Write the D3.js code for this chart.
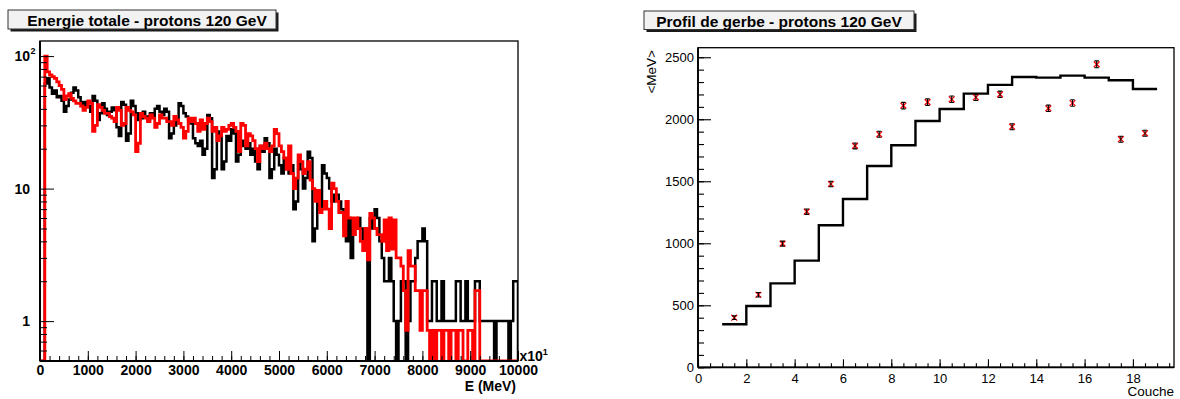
<!DOCTYPE html>
<html><head><meta charset="utf-8">
<script src="https://cdn.jsdelivr.net/npm/d3@7"></script>
<style>
html,body{margin:0;padding:0;background:#fff;}
svg{display:block;}
</style></head><body>
<svg id="c" width="1180" height="399"></svg>
<script>
// ---------------- DATA ----------------
// Left: total energy histogram, 200 bins from 0 to 10000 (x10^1 MeV)
const energyMin = 0;
const energyMax = 10000;
const energyBinWidth = 50;
const energyTicks = [0,1000,2000,3000,4000,5000,6000,7000,8000,9000,10000];
const countTicks = [1,10,100];
// black histogram (counts per bin)
const blackCounts = [
  0,0, 62,68, 58,52, 55,49, 50,46, 38,42, 47,53, 58,55, 49,45, 41,45,
  42,38, 50,46, 33,37, 44,40, 36,38, 41,39, 29,25, 45,43, 23,26, 46,42,
  37,33, 34,38, 35,33, 37,35, 40,42, 38,36, 40,38, 24,26, 30,32, 44,42,
  37,35, 33,31, 24,22, 21,23, 18,20, 36,34, 12,14, 27,25, 14,16, 25,23,
  28,26, 16,18, 23,21, 20,22, 18,20, 16,14, 21,19, 24,22, 12,14, 20,18,
  15,13, 17,15, 13,15, 7,8, 16,14, 10,12, 19,17, 4,5, 9,7, 15,13,
  12,10, 8,9, 9,8, 7,5, 4,6, 3,5, 5,6, 5,4, 5,0, 6,5,
  7,6, 4,3, 2,2, 3,2, 1,0, 1,2, 2,0, 1,2, 2,3, 4,4,
  5,4, 1,1, 2,2, 1,1, 2,1, 1,1, 1,1, 2,2, 1,1, 2,1,
  1,1, 2,2, 1,1, 1,1, 1,1, 0,1, 1,1, 1,1, 0,1, 2,2
];
// red histogram (normalised counts per bin)
const redCounts = [
  0,0, 100,76, 72,70, 68,64, 60,56, 47,50, 52,48, 46,44, 44,42, 39,41,
  46,44, 27,30, 43,41, 39,37, 37,35, 34,32, 41,39, 30,31, 41,39, 38,36,
  19,22, 37,35, 34,32, 36,34, 29,31, 36,34, 34,32, 32,30, 35,33, 31,29,
  24,27, 34,32, 34,31, 27,33, 28,31, 34,32, 27,29, 23,25, 29,27, 28,30,
  31,29, 27,19, 31,30, 21,26, 25,23, 20,16, 21,20, 22,20, 19,21, 28,26,
  21,19, 17,14, 21,13, 10,12, 18,16, 13,14, 16,11.6, 10,8, 9.7,6.6, 7,8,
  7,5, 11,10, 8,6.6, 6.6,4.4, 8,6, 6,4.5, 6,5, 4,3.4, 5,2.9, 6.5,6,
  5,4.5, 4.5,4, 5.8,3.4, 6,3.5, 5.8,3, 3,2.6, 1.7,0.85, 3.4,2.6, 2.6,1.7, 1.7,0.85,
  1.7,1.7, 0.85,0, 0.85,0, 0.85,0.85, 0,0.85, 0.85,0, 0.85,0.85, 0,0.85, 0.85,0, 0,0.85,
  0.85,0, 1.7,1.7, 0,0, 0,0, 0,0, 0,0, 0,0, 0,0, 0,0, 0,0
];

// Right: shower profile
const layerTicks = [0,2,4,6,8,10,12,14,16,18];
const mevTicks = [0,500,1000,1500,2000,2500];
const stepLayerEdges = [1,2,3,4,5,6,7,8,9,10,11,12,13,14,15,16,17,18,19];
const stepMeV = [347, 494, 677, 860, 1145, 1357, 1623, 1790, 1986, 2083, 2207, 2277, 2341, 2336, 2352, 2336, 2314, 2244];
const pointLayer = [1.5, 2.5, 3.5, 4.5, 5.5, 6.5, 7.5, 8.5, 9.5, 10.5, 11.5, 12.5, 13, 14.5, 15.5, 16.5, 17.5, 18.5];
const pointMeV   = [400, 585, 997, 1255, 1478, 1785, 1879, 2110, 2138, 2161, 2177, 2201, 1940, 2088, 2131, 2443, 1839, 1887];
const pointErr   = [15, 18, 20, 22, 22, 24, 24, 26, 26, 26, 26, 26, 24, 26, 26, 28, 24, 24];

// ---------------- DRAW ----------------
const svg = d3.select("#c");
const FONT = "'Liberation Sans', Arial, Helvetica, sans-serif";

function titleBox(x, y, w, h, txt, cx) {
  svg.append("rect").attr("x", x + 2.5).attr("y", y + 2.5).attr("width", w).attr("height", h).attr("fill", "#1a1a1a");
  svg.append("rect").attr("x", x).attr("y", y).attr("width", w).attr("height", h)
    .attr("fill", "#f2f2f2").attr("stroke", "#333").attr("stroke-width", 1);
  svg.append("text").attr("x", cx).attr("y", y + 15.5).attr("text-anchor", "middle")
    .attr("font-family", FONT).attr("font-weight", "bold").attr("font-size", 15.5).attr("fill", "#000").text(txt);
}

// ===== LEFT PANEL =====
const L = {x0: 40, x1: 518, y0: 41, y1: 361};
const xL = d3.scaleLinear().domain([energyMin, energyMax]).range([L.x0, L.x1]);
const yL = d3.scaleLog().domain([0.5, 130]).range([L.y1, L.y0]).clamp(true);

svg.append("defs").append("clipPath").attr("id", "clipL")
  .append("rect").attr("x", L.x0).attr("y", L.y0).attr("width", L.x1 - L.x0).attr("height", L.y1 - L.y0);

function histPoints(vals) {
  const pts = [[energyMin, 0]];
  vals.forEach((v, i) => {
    const a = energyMin + i * energyBinWidth, b = a + energyBinWidth;
    pts.push([a, v], [b, v]);
  });
  pts.push([energyMin + vals.length * energyBinWidth, 0]);
  return pts;
}
const lineL = d3.line().x(d => xL(d[0])).y(d => d[1] > 0 ? yL(d[1]) : L.y1);

const gL = svg.append("g").attr("clip-path", "url(#clipL)");
gL.append("path").attr("d", lineL(histPoints(blackCounts)))
  .attr("fill", "none").attr("stroke", "#000").attr("stroke-width", 2.5).attr("stroke-linejoin", "miter");
gL.append("path").attr("d", lineL(histPoints(redCounts)))
  .attr("fill", "none").attr("stroke", "#f00").attr("stroke-width", 2.8).attr("stroke-linejoin", "miter");

// x axis (left)
const axXL = svg.append("g").attr("transform", `translate(0,${L.y1})`)
  .call(d3.axisBottom(xL).tickValues(energyTicks).tickSize(-10).tickPadding(4).tickFormat(d3.format("d")));
const axXLm = svg.append("g").attr("transform", `translate(0,${L.y1})`)
  .call(d3.axisBottom(xL).tickValues(d3.range(energyMin, energyMax + 1, 200)).tickSize(-5).tickFormat(""));
// y axis (left)
const axYL = svg.append("g").attr("transform", `translate(${L.x0},0)`)
  .call(d3.axisLeft(yL).tickValues(countTicks).tickSize(-14).tickPadding(10)
    .tickFormat(d => d === 100 ? "10" : String(d)));
const minorLog = [0.6,0.7,0.8,0.9,2,3,4,5,6,7,8,9,20,30,40,50,60,70,80,90];
const axYLm = svg.append("g").attr("transform", `translate(${L.x0},0)`)
  .call(d3.axisLeft(yL).tickValues(minorLog).tickSize(-7).tickFormat(""));

[axXL, axXLm, axYL, axYLm].forEach(g => {
  g.select(".domain").remove();
  g.selectAll("line").attr("stroke", "#000").attr("stroke-width", 1);
  g.selectAll("text").attr("font-family", FONT).attr("font-weight", "bold").attr("font-size", 14).attr("fill", "#000");
});
// superscript for 10^2
svg.append("text").attr("x", 30.5).attr("y", yL(100) - 2).attr("font-family", FONT).attr("font-weight", "bold")
  .attr("font-size", 9).text("2");

// frame
svg.append("rect").attr("x", L.x0).attr("y", L.y0).attr("width", L.x1 - L.x0).attr("height", L.y1 - L.y0)
  .attr("fill", "none").attr("stroke", "#000").attr("stroke-width", 1.3);
svg.append("line").attr("x1", L.x0).attr("x2", L.x1).attr("y1", L.y1).attr("y2", L.y1).attr("stroke", "#000").attr("stroke-width", 2);
svg.append("line").attr("x1", L.x0).attr("x2", L.x0).attr("y1", L.y0).attr("y2", L.y1).attr("stroke", "#000").attr("stroke-width", 2);

// axis titles left
svg.append("text").attr("x", 516).attr("y", 391).attr("text-anchor", "end").attr("font-family", FONT)
  .attr("font-weight", "bold").attr("font-size", 14).text("E (MeV)");
const xpow = svg.append("text").attr("x", 519.5).attr("y", 361).attr("font-family", FONT)
  .attr("font-weight", "bold").attr("font-size", 14);
xpow.append("tspan").text("x10");
xpow.append("tspan").attr("font-size", 9).attr("dy", -6).text("1");

titleBox(8, 10, 268, 19, "Energie totale - protons 120 GeV", 147);

// ===== RIGHT PANEL =====
const R = {x0: 698, x1: 1174, y0: 47.7, y1: 367.3};
const xR = d3.scaleLinear().domain([0, 19.7]).range([R.x0, R.x1]);
const yR = d3.scaleLinear().domain([0, 2577]).range([R.y1, R.y0]);

// step histogram
const stepPts = [];
stepMeV.forEach((v, i) => { stepPts.push([stepLayerEdges[i], v], [stepLayerEdges[i + 1], v]); });
svg.append("path").attr("d", d3.line().x(d => xR(d[0])).y(d => yR(d[1]))(stepPts))
  .attr("fill", "none").attr("stroke", "#000").attr("stroke-width", 2.4).attr("stroke-linejoin", "miter");

// points with error bars
const pts = pointLayer.map((x, i) => ({x, y: pointMeV[i], e: pointErr[i]}));
const gp = svg.append("g");
pts.forEach(p => {
  const cx = xR(p.x), cy = yR(p.y), ylo = yR(p.y - p.e), yhi = yR(p.y + p.e);
  const s = 2.9;
  gp.append("path").attr("d", `M${cx - s},${cy - s}L${cx + s},${cy + s}M${cx - s},${cy + s}L${cx + s},${cy - s}`)
    .attr("stroke", "#f00").attr("stroke-width", 1.3).attr("fill", "none");
  gp.append("path").attr("d", `M${cx},${ylo}L${cx},${yhi}M${cx - 2.2},${ylo}L${cx + 2.2},${ylo}M${cx - 2.2},${yhi}L${cx + 2.2},${yhi}`)
    .attr("stroke", "#000").attr("stroke-width", 1.1).attr("fill", "none");
});

// axes right
const axXR = svg.append("g").attr("transform", `translate(0,${R.y1})`)
  .call(d3.axisBottom(xR).tickValues(layerTicks).tickSize(-8).tickPadding(6).tickFormat(d3.format("d")));
const axXRm = svg.append("g").attr("transform", `translate(0,${R.y1})`)
  .call(d3.axisBottom(xR).tickValues(d3.range(0, 19.6, 0.5)).tickSize(-4).tickFormat(""));
const axYR = svg.append("g").attr("transform", `translate(${R.x0},0)`)
  .call(d3.axisLeft(yR).tickValues(mevTicks).tickSize(-13).tickPadding(4).tickFormat(d3.format("d")));
const axYRm = svg.append("g").attr("transform", `translate(${R.x0},0)`)
  .call(d3.axisLeft(yR).tickValues(d3.range(0, 2577, 100)).tickSize(-6).tickFormat(""));
[axXR, axXRm, axYR, axYRm].forEach(g => {
  g.select(".domain").remove();
  g.selectAll("line").attr("stroke", "#000").attr("stroke-width", 1.1);
  g.selectAll("text").attr("font-family", FONT).attr("font-size", 13).attr("fill", "#000");
});

svg.append("rect").attr("x", R.x0).attr("y", R.y0).attr("width", R.x1 - R.x0).attr("height", R.y1 - R.y0)
  .attr("fill", "none").attr("stroke", "#000").attr("stroke-width", 1.3);
svg.append("line").attr("x1", R.x0).attr("x2", R.x1).attr("y1", R.y1).attr("y2", R.y1).attr("stroke", "#000").attr("stroke-width", 1.8);
svg.append("line").attr("x1", R.x0).attr("x2", R.x0).attr("y1", R.y0).attr("y2", R.y1).attr("stroke", "#000").attr("stroke-width", 1.8);

svg.append("text").attr("transform", `translate(656,50) rotate(-90)`).attr("text-anchor", "end")
  .attr("font-family", FONT).attr("font-size", 13.5).text("<MeV>");
svg.append("text").attr("x", 1174).attr("y", 396).attr("text-anchor", "end")
  .attr("font-family", FONT).attr("font-size", 13.5).text("Couche");

titleBox(644, 11, 270, 18.5, "Profil de gerbe - protons 120 GeV", 779);
</script>
</body></html>
